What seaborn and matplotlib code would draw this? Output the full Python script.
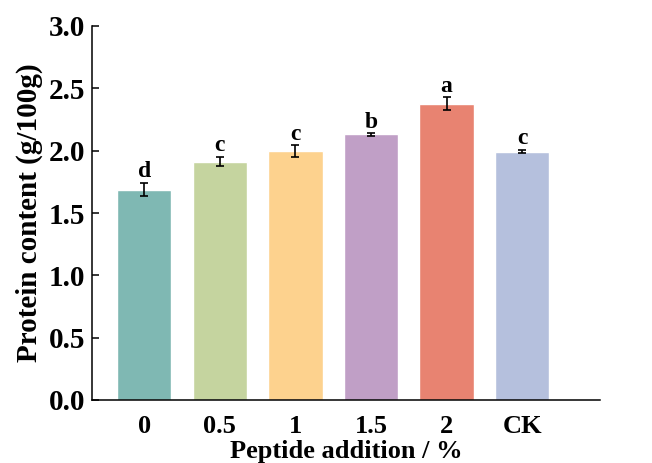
import numpy as np
import matplotlib
matplotlib.use("Agg")
import matplotlib.pyplot as plt
import seaborn as sns

# data
groups = ["0", "0.5", "1", "1.5", "2", "CK"]
protein = [1.688, 1.912, 1.995, 2.13, 2.375, 1.993]
err = [0.052, 0.038, 0.048, 0.01, 0.052, 0.015]
letters = ["d", "c", "c", "b", "a", "c"]
colors = ["#7FB8B3", "#C5D49F", "#FDD28E", "#C09FC6", "#E88371", "#B5C0DD"]

sns.set_style("ticks")
plt.rcParams["font.family"] = ["Liberation Serif", "DejaVu Serif"]
plt.rcParams["font.weight"] = "bold"
plt.rcParams["text.color"] = "black"
plt.rcParams["axes.labelcolor"] = "black"
plt.rcParams["xtick.color"] = "black"
plt.rcParams["ytick.color"] = "black"
plt.rcParams["axes.edgecolor"] = "black"

fig = plt.figure(figsize=(6.52, 4.63), dpi=100)
ax = fig.add_axes([92 / 652, 1 - 400 / 463, (600 - 92) / 652, (400 - 26) / 463])

sns.barplot(x=groups, y=protein, hue=groups, palette=colors, legend=False,
            width=0.72, saturation=1, ax=ax)
ax.errorbar(np.arange(len(groups)), protein, yerr=err, fmt="none",
            ecolor="black", elinewidth=1.2, capsize=3, capthick=1.2)

for i, (v, e, lab) in enumerate(zip(protein, err, letters)):
    ax.annotate(lab, (i, v + e), xytext=(0, 0.5), textcoords="offset points",
                ha="center", va="bottom", fontsize=17, fontweight="bold")

ax.set_ylim(0, 3.0)
ax.set_xlim(-0.69, 6.03)
ax.set_yticks(np.arange(0, 3.01, 0.5))
ax.set_yticklabels([f"{t:.1f}" for t in np.arange(0, 3.01, 0.5)])

sns.despine(ax=ax)
for s in ["left", "bottom"]:
    ax.spines[s].set_linewidth(1.1)
ax.tick_params(axis="both", direction="in", length=5, width=1.1)
ax.tick_params(axis="y", labelsize=21, pad=5)
ax.tick_params(axis="x", labelsize=19, pad=11)
for t in ax.get_xticklabels() + ax.get_yticklabels():
    t.set_fontweight("bold")

ax.set_ylabel("Protein content (g/100g)", fontsize=21, fontweight="bold", labelpad=4)
ax.set_xlabel("Peptide addition / %", fontsize=19, fontweight="bold", labelpad=1)

fig.savefig("out.png", dpi=100)
